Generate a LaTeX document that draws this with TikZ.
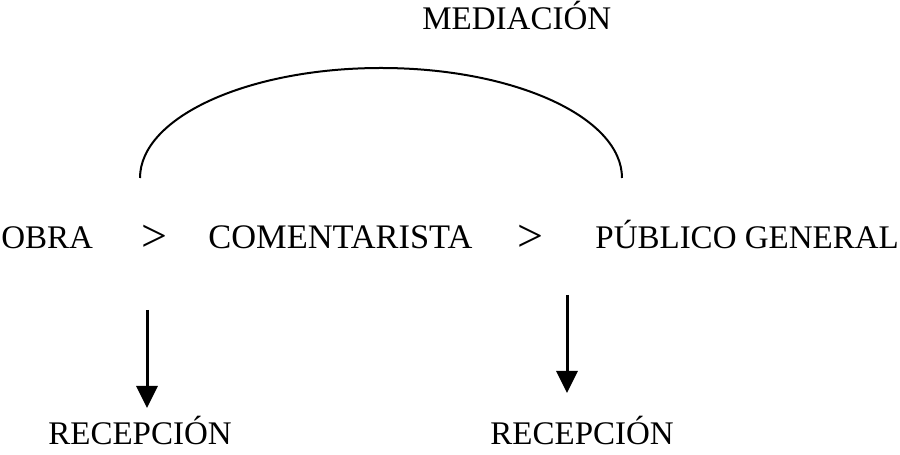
\documentclass[tikz,border=0pt]{standalone}
\usepackage{fontspec}
\setmainfont{Liberation Serif}
\usetikzlibrary{arrows.meta}
\tikzset{
  lbl/.style={anchor=base west, inner sep=0pt, font=\fontsize{16.5}{20}\selectfont},
  mayor/.style={anchor=base west, inner sep=0pt, font=\fontsize{23}{26}\selectfont},
  flecha/.style={-{Triangle[width=10.5pt,length=11pt]}, line width=1.5pt}
}
\begin{document}
\begin{tikzpicture}[x=0.5pt, y=0.5pt]
			\useasboundingbox (0,0) rectangle (900,455);
			% mediacion
			\node[lbl] (med) at (422,425) {MEDIACIÓN};
			\draw[line width=1pt] (140,277) arc[start angle=180, end angle=0, x radius=120.5pt, y radius=55pt];
			% cadena
			\node[lbl] (obra) at (1,206) {OBRA};
			\node[mayor] (g1) at (141,203) {>};
			\node[lbl, font=\fontsize{17.2}{20}\selectfont] (com) at (208,206) {COMENTARISTA};
			\node[mayor] (g2) at (517,203) {>};
			\node[lbl] (pub) at (595,206) {PÚBLICO GENERAL};
			% recepcion
			\coordinate (a1s) at (147,145);
			\coordinate (a1e) at (147,47);
			\draw[flecha] (a1s) -- (a1e);
			\node[lbl] (rec1) at (48,10) {RECEPCIÓN};
			\coordinate (a2s) at (567,160);
			\coordinate (a2e) at (567,62);
			\draw[flecha] (a2s) -- (a2e);
			\node[lbl] (rec2) at (490,10) {RECEPCIÓN};
		\end{tikzpicture}
\end{document}
